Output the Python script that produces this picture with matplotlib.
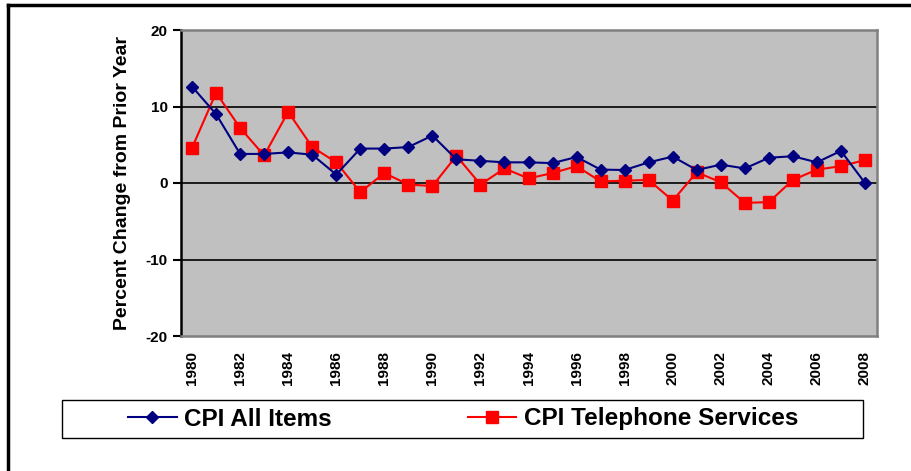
import matplotlib
matplotlib.use('Agg')
import matplotlib.pyplot as plt
from matplotlib.lines import Line2D
from matplotlib.patches import Rectangle

plt.rcParams['font.family'] = ['Liberation Sans', 'DejaVu Sans']
plt.rcParams['font.weight'] = 'bold'

years = list(range(1980, 2009))
cpi_all = [12.6, 9.0, 3.8, 3.8, 4.0, 3.7, 1.1, 4.5, 4.5, 4.7, 6.2, 3.1, 2.9, 2.7, 2.7,
           2.6, 3.4, 1.75, 1.7, 2.7, 3.45, 1.7, 2.4, 1.9, 3.3, 3.5, 2.7, 4.2, 0.0]
cpi_phone = [4.6, 11.8, 7.2, 3.6, 9.3, 4.7, 2.7, -1.2, 1.3, -0.2, -0.4, 3.55, -0.2, 1.9, 0.6,
             1.3, 2.2, 0.2, 0.3, 0.4, -2.3, 1.4, 0.1, -2.6, -2.5, 0.4, 1.75, 2.2, 3.0]
year_ticks = list(range(1980, 2009, 2))
y_ticks = [-20, -10, 0, 10, 20]

W, H = 911, 471
fig = plt.figure(figsize=(W / 100, H / 100), dpi=100)
ax = fig.add_axes([181 / W, 1 - 336 / H, 696 / W, 306 / H])
ax.set_facecolor('#C0C0C0')

for y in [-10, 0, 10]:
    ax.axhline(y, color='black', lw=1.2, zorder=1)

ax.plot(years, cpi_all, color='#000080', lw=1.5, marker='D', ms=5.8,
        label='CPI All Items', zorder=3)
ax.plot(years, cpi_phone, color='#FF0000', lw=1.5, marker='s', ms=8.5,
        label='CPI Telephone Services', zorder=2)

ax.set_xlim(1979.54, 2008.5)
ax.set_ylim(-20, 20)
ax.set_xticks(year_ticks)
ax.set_xticklabels([str(y) for y in year_ticks], rotation=90, fontsize=11, fontweight='bold')
ax.set_yticks(y_ticks)
ax.set_yticklabels([str(y) for y in y_ticks], fontsize=11, fontweight='bold')
ax.tick_params(axis='x', length=0, pad=11)
ax.tick_params(axis='y', length=6, width=1.5, direction='out', pad=3.5, color='black')

for side in ['top', 'right', 'bottom']:
    ax.spines[side].set_color('#808080')
    ax.spines[side].set_linewidth(1.8)
ax.spines['left'].set_color('black')
ax.spines['left'].set_linewidth(1.8)

ax.set_ylabel('Percent Change from Prior Year', fontsize=14, fontweight='bold')
ax.yaxis.set_label_coords(-0.072, 0.5)

# legend box
fig.add_artist(Rectangle((62 / W, 1 - 438 / H), 801 / W, 38 / H, transform=fig.transFigure,
                         fill=False, edgecolor='black', lw=1.0))
fig.legend(loc='center', bbox_to_anchor=(463 / W, 1 - 419 / H), ncol=2, frameon=False,
           prop={'size': 17.5, 'weight': 'bold'}, handlelength=2.0, handletextpad=0.3,
           columnspacing=5.6, borderpad=0, markerscale=1.0)

# outer border
fig.add_artist(Line2D([8 / W, 8 / W], [0, 1 - 5 / H], transform=fig.transFigure,
                      color='black', lw=2.5))
fig.add_artist(Line2D([8 / W, 1], [1 - 5 / H, 1 - 5 / H], transform=fig.transFigure,
                      color='black', lw=2.5))

fig.savefig('out.png', dpi=100)
